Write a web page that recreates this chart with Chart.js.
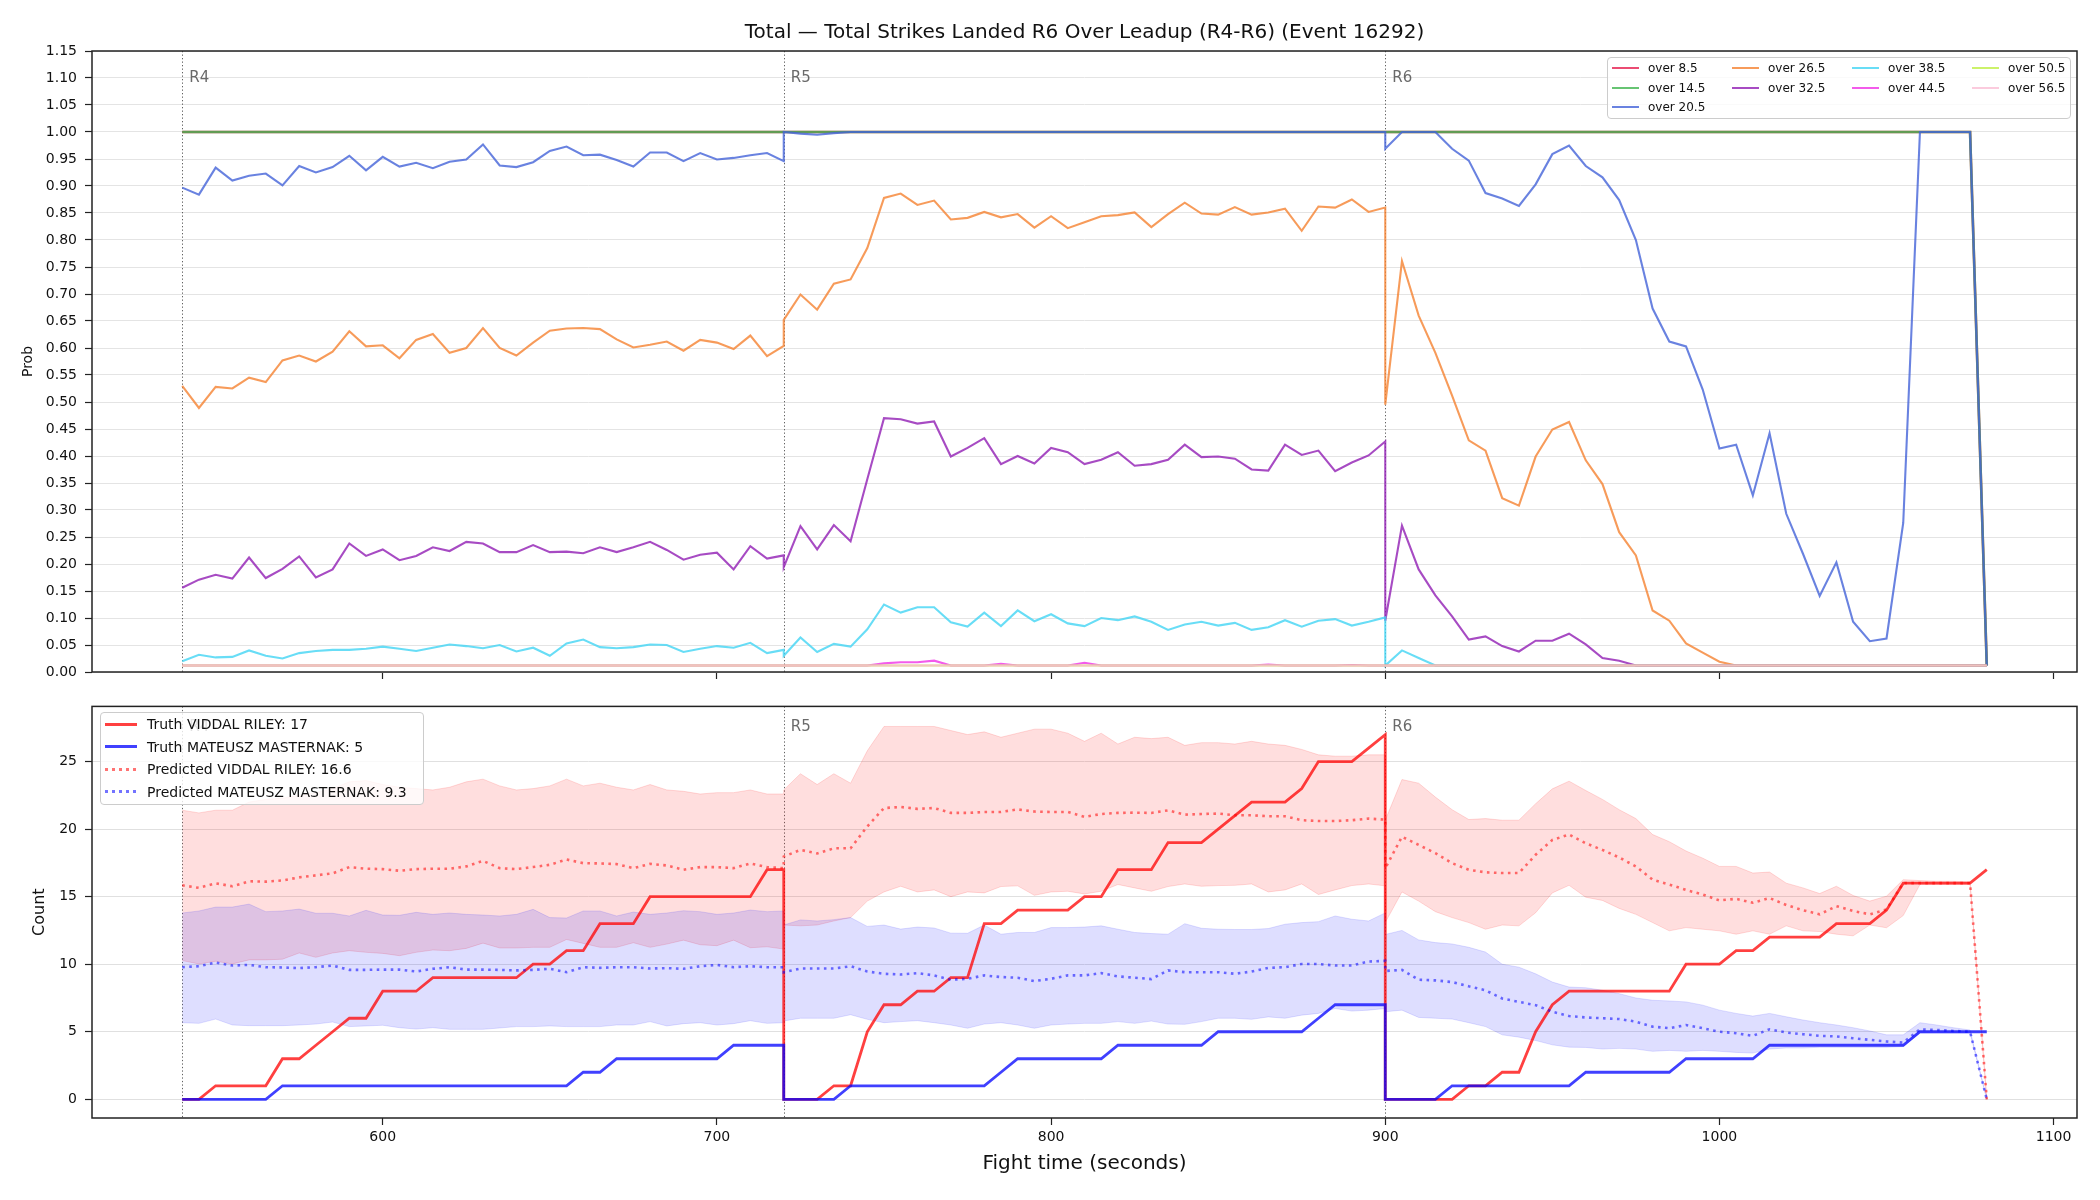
<!DOCTYPE html>
<html>
<head>
<meta charset="utf-8">
<script src="https://cdn.jsdelivr.net/npm/chart.js@4.4.1/dist/chart.umd.min.js"></script>
<style>
  html, body { margin: 0; padding: 0; background: #fff; }
  #wrap { position: relative; width: 2100px; height: 1200px; background: #fff; font-family: "DejaVu Sans", sans-serif; color: #111; overflow: hidden; }
  canvas { position: absolute; left: 0; }
  #title { position: absolute; left: 92px; width: 1985px; top: 18px; text-align: center; font-size: 20px; line-height: 26px; }
  .legend { position: absolute; background: rgba(255,255,255,0.8); border: 1px solid #cccccc; border-radius: 4px; box-sizing: border-box; z-index: 5; }
  .item { position: absolute; white-space: nowrap; display: flex; align-items: center; }
</style>
</head>
<body>
<div id="wrap">
  <canvas id="topChart" width="2100" height="700" style="top:0px"></canvas>
  <canvas id="bottomChart" width="2100" height="510" style="top:690px"></canvas>
  <div id="title">Total — Total Strikes Landed R6 Over Leadup (R4-R6) (Event 16292)</div>
  <div id="legendTop" class="legend" style="left:1607px; top:57px; width:464px; height:62px;"></div>
  <div id="legendBottom" class="legend" style="left:100px; top:712px; width:324px; height:93px;"></div>
</div>
<script>
const FONT = '"DejaVu Sans", sans-serif';

// fight time (s); each round repeats its boundary second
const times = [
  540,545,550,555,560,565,570,575,580,585,590,595,600,605,610,615,620,625,630,635,640,645,650,655,660,665,670,675,680,685,690,695,700,705,710,715,720,
  720,725,730,735,740,745,750,755,760,765,770,775,780,785,790,795,800,805,810,815,820,825,830,835,840,845,850,855,860,865,870,875,880,885,890,895,900,
  900,905,910,915,920,925,930,935,940,945,950,955,960,965,970,975,980,985,990,995,1000,1005,1010,1015,1020,1025,1030,1035,1040,1045,1050,1055,1060,1065,1070,1075,1080
];
const roundTimes = [540, 720, 900];
const roundNames = ['R4', 'R5', 'R6'];
const xTicks = [600, 700, 800, 900, 1000, 1100];
const probTicks = [0, 0.05, 0.1, 0.15, 0.2, 0.25, 0.3, 0.35, 0.4, 0.45, 0.5, 0.55, 0.6, 0.65, 0.7, 0.75, 0.8, 0.85, 0.9, 0.95, 1, 1.05, 1.1, 1.15];
const countTicks = [0, 5, 10, 15, 20, 25];

// top panel: probability of each line
const over85 = [
  1,1,1,1,1,1,1,1,1,1,1,1,1,1,1,1,1,1,1,1,1,1,1,1,1,1,1,1,1,1,1,1,1,1,1,1,1,
  1,1,1,1,1,1,1,1,1,1,1,1,1,1,1,1,1,1,1,1,1,1,1,1,1,1,1,1,1,1,1,1,1,1,1,1,1,
  1,1,1,1,1,1,1,1,1,1,1,1,1,1,1,1,1,1,1,1,1,1,1,1,1,1,1,1,1,1,1,1,1,1,1,1,0.012
];
const over145 = [
  1,1,1,1,1,1,1,1,1,1,1,1,1,1,1,1,1,1,1,1,1,1,1,1,1,1,1,1,1,1,1,1,1,1,1,1,1,
  1,1,1,1,1,1,1,1,1,1,1,1,1,1,1,1,1,1,1,1,1,1,1,1,1,1,1,1,1,1,1,1,1,1,1,1,1,
  1,1,1,1,1,1,1,1,1,1,1,1,1,1,1,1,1,1,1,1,1,1,1,1,1,1,1,1,1,1,1,1,1,1,1,1,0.012
];
const over205 = [
  0.897,0.884,0.934,0.910,0.919,0.923,0.901,0.937,0.925,0.935,0.956,0.929,0.954,0.936,0.943,0.933,0.945,0.949,0.977,0.938,0.935,0.944,0.965,0.973,0.957,0.958,0.948,0.936,0.962,0.962,0.946,0.961,0.949,0.952,0.957,0.961,0.946,
  1,0.997,0.995,0.998,1,1,1,1,1,1,1,1,1,1,1,1,1,1,1,1,1,1,1,1,1,1,1,1,1,1,1,1,1,1,1,1,1,
  0.969,1,1,1,0.969,0.947,0.887,0.877,0.863,0.903,0.959,0.975,0.937,0.916,0.874,0.800,0.673,0.612,0.603,0.523,0.414,0.421,0.327,0.442,0.293,0.219,0.141,0.203,0.093,0.057,0.062,0.276,1,1,1,1,0.012
];
const over265 = [
  0.530,0.489,0.528,0.525,0.545,0.537,0.577,0.586,0.575,0.593,0.631,0.603,0.605,0.581,0.615,0.626,0.591,0.600,0.637,0.600,0.586,0.610,0.632,0.636,0.637,0.635,0.616,0.601,0.606,0.612,0.595,0.615,0.610,0.598,0.623,0.585,0.604,
  0.652,0.699,0.671,0.719,0.727,0.785,0.878,0.886,0.865,0.873,0.838,0.841,0.852,0.842,0.848,0.823,0.844,0.822,0.833,0.844,0.846,0.851,0.824,0.848,0.869,0.849,0.847,0.861,0.847,0.851,0.858,0.817,0.862,0.860,0.875,0.852,0.860,
  0.495,0.761,0.660,0.591,0.512,0.429,0.410,0.322,0.308,0.399,0.449,0.463,0.392,0.348,0.259,0.216,0.114,0.095,0.053,0.036,0.019,0.012,0.012,0.012,0.012,0.012,0.012,0.012,0.012,0.012,0.012,0.012,0.012,0.012,0.012,0.012,0.012
];
const over325 = [
  0.156,0.171,0.180,0.173,0.212,0.174,0.191,0.214,0.175,0.190,0.238,0.215,0.227,0.207,0.215,0.231,0.224,0.241,0.238,0.222,0.222,0.235,0.222,0.223,0.220,0.231,0.222,0.231,0.241,0.226,0.208,0.217,0.221,0.190,0.233,0.210,0.216,
  0.194,0.270,0.227,0.272,0.242,0.357,0.470,0.468,0.460,0.464,0.399,0.415,0.433,0.385,0.400,0.386,0.415,0.407,0.385,0.393,0.407,0.382,0.385,0.393,0.421,0.398,0.399,0.395,0.375,0.373,0.421,0.402,0.410,0.372,0.388,0.401,0.427,
  0.095,0.271,0.190,0.142,0.103,0.060,0.066,0.048,0.038,0.058,0.058,0.071,0.051,0.026,0.021,0.012,0.012,0.012,0.012,0.012,0.012,0.012,0.012,0.012,0.012,0.012,0.012,0.012,0.012,0.012,0.012,0.012,0.012,0.012,0.012,0.012,0.012
];
const over385 = [
  0.020,0.032,0.027,0.028,0.040,0.030,0.025,0.035,0.039,0.041,0.041,0.043,0.047,0.043,0.039,0.045,0.051,0.048,0.044,0.050,0.038,0.045,0.030,0.053,0.060,0.046,0.044,0.046,0.051,0.050,0.037,0.043,0.048,0.045,0.054,0.035,0.041,
  0.030,0.064,0.037,0.052,0.047,0.079,0.125,0.110,0.120,0.120,0.092,0.084,0.110,0.085,0.114,0.094,0.107,0.090,0.085,0.100,0.096,0.103,0.093,0.078,0.088,0.093,0.086,0.091,0.078,0.083,0.096,0.084,0.095,0.098,0.086,0.093,0.101,
  0.012,0.040,0.026,0.012,0.012,0.012,0.012,0.012,0.012,0.012,0.012,0.012,0.012,0.012,0.012,0.012,0.012,0.012,0.012,0.012,0.012,0.012,0.012,0.012,0.012,0.012,0.012,0.012,0.012,0.012,0.012,0.012,0.012,0.012,0.012,0.012,0.012
];
const over445 = [
  0.012,0.012,0.012,0.012,0.012,0.012,0.012,0.012,0.012,0.012,0.012,0.012,0.012,0.012,0.012,0.012,0.012,0.012,0.012,0.012,0.012,0.012,0.012,0.012,0.012,0.012,0.012,0.012,0.012,0.012,0.012,0.012,0.012,0.012,0.012,0.012,0.012,
  0.012,0.012,0.012,0.012,0.012,0.012,0.016,0.018,0.018,0.021,0.012,0.012,0.012,0.015,0.012,0.012,0.012,0.012,0.017,0.012,0.012,0.012,0.012,0.012,0.012,0.012,0.012,0.012,0.012,0.014,0.012,0.012,0.012,0.012,0.013,0.012,0.012,
  0.012,0.012,0.012,0.012,0.012,0.012,0.012,0.012,0.012,0.012,0.012,0.012,0.012,0.012,0.012,0.012,0.012,0.012,0.012,0.012,0.012,0.012,0.012,0.012,0.012,0.012,0.012,0.012,0.012,0.012,0.012,0.012,0.012,0.012,0.012,0.012,0.012
];
const over505 = [
  0.012,0.012,0.012,0.012,0.012,0.012,0.012,0.012,0.012,0.012,0.012,0.012,0.012,0.012,0.012,0.012,0.012,0.012,0.012,0.012,0.012,0.012,0.012,0.012,0.012,0.012,0.012,0.012,0.012,0.012,0.012,0.012,0.012,0.012,0.012,0.012,0.012,
  0.012,0.012,0.012,0.012,0.012,0.012,0.012,0.012,0.012,0.012,0.012,0.012,0.012,0.012,0.012,0.012,0.012,0.012,0.012,0.012,0.012,0.012,0.012,0.012,0.012,0.012,0.012,0.012,0.012,0.012,0.012,0.012,0.012,0.012,0.012,0.012,0.012,
  0.012,0.012,0.012,0.012,0.012,0.012,0.012,0.012,0.012,0.012,0.012,0.012,0.012,0.012,0.012,0.012,0.012,0.012,0.012,0.012,0.012,0.012,0.012,0.012,0.012,0.012,0.012,0.012,0.012,0.012,0.012,0.012,0.012,0.012,0.012,0.012,0.012
];
const over565 = [
  0.012,0.012,0.012,0.012,0.012,0.012,0.012,0.012,0.012,0.012,0.012,0.012,0.012,0.012,0.012,0.012,0.012,0.012,0.012,0.012,0.012,0.012,0.012,0.012,0.012,0.012,0.012,0.012,0.012,0.012,0.012,0.012,0.012,0.012,0.012,0.012,0.012,
  0.012,0.012,0.012,0.012,0.012,0.012,0.012,0.012,0.012,0.012,0.012,0.012,0.012,0.012,0.012,0.012,0.012,0.012,0.012,0.012,0.012,0.012,0.012,0.012,0.012,0.012,0.012,0.012,0.012,0.012,0.012,0.012,0.012,0.012,0.012,0.012,0.012,
  0.012,0.012,0.012,0.012,0.012,0.012,0.012,0.012,0.012,0.012,0.012,0.012,0.012,0.012,0.012,0.012,0.012,0.012,0.012,0.012,0.012,0.012,0.012,0.012,0.012,0.012,0.012,0.012,0.012,0.012,0.012,0.012,0.012,0.012,0.012,0.012,0.012
];
const lineNames = ['over 8.5', 'over 14.5', 'over 20.5', 'over 26.5', 'over 32.5', 'over 38.5', 'over 44.5', 'over 50.5', 'over 56.5'];
const lineColors = ['rgba(230,25,75,0.78)', 'rgba(60,180,75,0.78)', 'rgba(67,99,216,0.8)', 'rgba(245,130,49,0.8)', 'rgba(145,30,180,0.8)',
                    'rgba(66,212,244,0.8)', 'rgba(240,50,230,0.8)', 'rgba(191,239,69,0.8)', 'rgba(250,190,212,0.8)'];
const lineValues = [over85, over145, over205, over265, over325, over385, over445, over505, over565];

// bottom panel: counts
const truthRiley = [
  0,0,1,1,1,1,3,3,4,5,6,6,8,8,8,9,9,9,9,9,9,10,10,11,11,13,13,13,15,15,15,15,15,15,15,17,17,
  0,0,0,1,1,5,7,7,8,8,9,9,13,13,14,14,14,14,15,15,17,17,17,19,19,19,20,21,22,22,22,23,25,25,25,26,27,
  0,0,0,0,0,1,1,2,2,5,7,8,8,8,8,8,8,8,10,10,10,11,11,12,12,12,12,13,13,13,14,16,16,16,16,16,17
];
const truthMasternak = [
  0,0,0,0,0,0,1,1,1,1,1,1,1,1,1,1,1,1,1,1,1,1,1,1,2,2,3,3,3,3,3,3,3,4,4,4,4,
  0,0,0,0,1,1,1,1,1,1,1,1,1,2,3,3,3,3,3,3,4,4,4,4,4,4,5,5,5,5,5,5,6,7,7,7,7,
  0,0,0,0,1,1,1,1,1,1,1,1,2,2,2,2,2,2,3,3,3,3,3,4,4,4,4,4,4,4,4,4,5,5,5,5,5
];
const predRiley = [
  15.84,15.65,15.99,15.77,16.14,16.11,16.2,16.43,16.58,16.72,17.19,17.07,17.04,16.92,17.04,17.07,17.07,17.24,17.65,17.11,17.04,17.19,17.36,17.75,17.48,17.46,17.41,17.11,17.43,17.31,16.99,17.19,17.19,17.11,17.46,17.19,17.11,
  17.97,18.46,18.2,18.58,18.58,20.2,21.56,21.64,21.5,21.56,21.2,21.2,21.27,21.27,21.46,21.3,21.27,21.27,20.9,21.12,21.2,21.22,21.2,21.39,21.07,21.12,21.15,21.03,21.03,20.95,20.95,20.66,20.6,20.6,20.66,20.78,20.7,
  17.1,19.44,18.83,18.22,17.48,16.99,16.8,16.75,16.75,18.1,19.2,19.6,18.95,18.46,17.9,17.24,16.26,15.9,15.5,15.16,14.72,14.84,14.55,14.9,14.38,14.0,13.69,14.3,13.94,13.69,14.06,16.0,16.0,16.0,16.0,16.0,0
];
const predMasternak = [
  9.78,9.85,10.12,9.9,9.95,9.78,9.76,9.71,9.78,9.9,9.58,9.58,9.6,9.6,9.46,9.66,9.78,9.6,9.6,9.58,9.54,9.58,9.66,9.41,9.78,9.73,9.78,9.78,9.68,9.71,9.66,9.85,9.95,9.78,9.85,9.78,9.78,
  9.4,9.68,9.68,9.68,9.85,9.46,9.29,9.24,9.34,9.17,8.85,8.92,9.17,9.05,9.0,8.75,8.92,9.17,9.17,9.34,9.1,9.0,8.9,9.54,9.41,9.41,9.41,9.29,9.46,9.73,9.78,10.02,10.02,9.9,9.9,10.2,10.25,
  9.5,9.58,8.85,8.8,8.68,8.36,8.07,7.46,7.21,6.97,6.48,6.16,6.06,6.0,5.94,5.75,5.38,5.26,5.5,5.26,5.0,4.89,4.7,5.18,4.94,4.82,4.7,4.65,4.52,4.4,4.28,4.2,5.18,5.13,5.06,5.0,0
];
const rileyHigh = [
  21.4,21.2,21.4,21.4,22.0,22.2,22.3,22.5,22.7,23.0,23.5,23.6,23.3,23.1,23.0,22.9,23.1,23.5,23.7,23.2,22.9,23.0,23.2,23.7,23.2,23.4,23.1,22.9,23.3,22.9,22.8,22.6,22.7,22.7,22.9,22.6,22.6,
  22.9,24.1,23.3,24.1,23.4,25.8,27.6,27.6,27.6,27.6,27.3,27.0,27.2,26.8,27.1,27.4,27.4,27.1,26.5,27.1,26.3,26.8,26.7,26.8,26.2,26.4,26.4,26.3,26.5,26.3,26.2,25.9,25.5,25.4,25.4,25.5,25.5,
  20.66,23.67,23.4,22.37,21.44,20.71,20.78,20.66,20.66,21.88,22.98,23.55,22.86,22.2,21.44,20.78,19.6,19.07,18.38,17.85,17.24,17.24,16.75,16.82,16.0,15.65,15.23,15.77,15.09,14.67,15.04,16.26,16.19,16.14,16.14,16.09,0
];
const rileyLow = [
  10.27,10.02,10.22,10.02,10.32,10.32,10.37,10.83,10.51,10.83,11.0,10.88,10.8,10.63,10.88,11.05,11.0,11.17,11.56,11.2,11.2,11.25,11.25,11.83,11.54,11.25,11.25,11.59,11.25,11.49,11.78,11.44,11.37,11.78,11.22,11.29,11.12,
  12.9,12.84,12.9,13.2,13.45,14.67,15.35,15.77,15.35,15.5,15.0,15.35,15.28,15.75,15.8,15.1,15.35,15.4,15.2,15.4,15.9,15.65,15.4,15.75,15.94,15.77,15.82,15.84,15.94,15.35,15.5,15.94,15.16,15.5,15.82,15.94,15.8,
  13.08,15.35,14.67,13.89,13.45,13.08,12.59,12.9,12.84,13.81,15.28,15.84,14.96,14.72,14.13,13.69,13.08,12.47,12.71,12.59,12.47,12.22,12.47,12.22,12.84,12.47,12.42,12.22,12.1,12.9,12.7,13.6,15.9,15.9,15.9,15.9,0
];
const masternakHigh = [
  13.79,13.94,14.23,14.23,14.45,13.89,13.94,14.08,13.77,13.77,13.57,13.99,13.64,13.62,13.84,13.69,13.79,13.69,13.64,13.57,13.69,14.06,13.45,13.42,13.94,13.94,13.57,13.86,13.69,13.79,13.96,13.89,13.69,13.79,14.01,13.89,13.94,
  12.9,13.28,13.2,13.3,13.45,12.8,12.9,12.6,12.75,12.68,12.3,12.29,12.9,12.22,12.35,12.35,12.71,12.71,12.75,12.84,12.59,12.35,12.27,12.22,13.0,12.66,12.59,12.57,12.57,12.64,12.96,13.08,13.15,13.57,13.33,13.2,13.8,
  12.2,12.5,11.8,11.6,11.5,11.25,10.9,10.0,9.78,9.29,8.68,8.31,8.26,8.07,7.82,7.5,7.33,7.28,7.21,6.97,6.6,6.36,6.16,6.36,6.11,5.87,5.67,5.5,5.3,5.06,4.77,4.77,5.67,5.5,5.3,5.13,0
];
const masternakLow = [
  5.67,5.62,5.94,5.5,5.45,5.45,5.45,5.5,5.57,5.72,5.38,5.43,5.48,5.3,5.2,5.3,5.18,5.18,5.18,5.28,5.38,5.38,5.43,5.38,5.38,5.38,5.5,5.5,5.75,5.43,5.6,5.67,5.5,5.6,5.82,5.62,5.67,
  5.8,6.0,6.0,6.0,6.26,5.92,5.67,5.75,5.82,5.67,5.5,5.26,5.57,5.67,5.5,5.26,5.5,5.57,5.62,5.62,5.75,5.62,5.79,5.57,5.55,5.75,6.0,6.0,5.92,6.1,6.0,6.23,6.36,6.72,6.53,6.6,6.72,
  6.48,6.6,6.06,6.0,5.94,5.67,5.38,4.77,4.6,4.35,4.03,3.86,3.84,3.72,3.77,3.72,3.55,3.62,3.55,3.62,3.55,3.47,3.42,3.72,3.8,3.8,3.85,3.85,3.85,3.85,3.85,3.9,4.9,4.9,4.9,4.9,0
];
const countLabels = ['Truth VIDDAL RILEY: 17', 'Truth MATEUSZ MASTERNAK: 5', 'Predicted VIDDAL RILEY: 16.6', 'Predicted MATEUSZ MASTERNAK: 9.3'];

const pts = vals => times.map((t, i) => ({ x: t, y: vals[i] }));

function roundsAndFrame(labelOffset) {
  return {
    id: 'roundsAndFrame',
    beforeDatasetsDraw(chart) {
      const { ctx, chartArea: a, scales: { x } } = chart;
      ctx.save();
      ctx.strokeStyle = 'rgba(70,70,70,0.85)';
      ctx.lineWidth = 1;
      ctx.setLineDash([1.3, 2.2]);
      roundTimes.forEach(t => {
        const px = Math.round(x.getPixelForValue(t)) + 0.5;
        ctx.beginPath(); ctx.moveTo(px, a.top); ctx.lineTo(px, a.bottom); ctx.stroke();
      });
      ctx.setLineDash([]);
      ctx.fillStyle = 'rgba(80,80,80,0.85)';
      ctx.font = '15px ' + FONT;
      ctx.textBaseline = 'middle';
      ctx.textAlign = 'left';
      roundTimes.forEach((t, i) => ctx.fillText(roundNames[i], x.getPixelForValue(t) + 7, a.top + labelOffset));
      ctx.restore();
    },
    afterDraw(chart) {
      const { ctx, chartArea: a } = chart;
      ctx.save();
      ctx.strokeStyle = '#222';
      ctx.lineWidth = 1.5;
      ctx.strokeRect(a.left, a.top, a.right - a.left, a.bottom - a.top);
      ctx.restore();
    }
  };
}

function xAxis(height, showLabels) {
  return {
    type: 'linear', min: 513, max: 1107,
    afterBuildTicks: s => { s.ticks = xTicks.map(v => ({ value: v })); },
    afterFit: s => { s.height = height; },
    ticks: { display: showLabels, autoSkip: false, maxRotation: 0, padding: 4, color: '#111',
             font: { size: 14, family: FONT }, callback: v => String(v) },
    grid: { drawOnChartArea: false, drawTicks: true, tickLength: 7, tickColor: '#222', tickWidth: 1.2 },
    border: { display: false },
    title: { display: showLabels, text: 'Fight time (seconds)', color: '#111',
             font: { size: 20, family: FONT }, padding: { top: 0, bottom: 24 } }
  };
}

const topDatasets = lineValues.map((vals, i) => ({
  label: lineNames[i],
  data: pts(vals),
  borderColor: lineColors[i],
  borderWidth: i < 2 ? 2.6 : 2.1,
  fill: false,
  order: 9 - i
}));

new Chart(document.getElementById('topChart'), {
  type: 'line',
  data: { datasets: topDatasets },
  options: {
    responsive: false, animation: false, devicePixelRatio: 1,
    layout: { padding: { top: 51, right: 23, bottom: 0, left: 0 } },
    elements: { point: { radius: 0 }, line: { tension: 0 } },
    plugins: { legend: { display: false }, tooltip: { enabled: false } },
    scales: {
      x: xAxis(28, false),
      y: {
        min: 0, max: 1.15,
        afterBuildTicks: s => { s.ticks = probTicks.map(v => ({ value: v })); },
        afterFit: s => { s.width = 92; },
        ticks: { autoSkip: false, padding: 8, color: '#111', font: { size: 14, family: FONT }, callback: v => v.toFixed(2) },
        grid: { color: '#e4e4e4', lineWidth: 1, tickLength: 7, tickColor: '#222', tickWidth: 1.2 },
        border: { display: false },
        title: { display: true, text: 'Prob', color: '#111', font: { size: 14, family: FONT }, padding: { top: 20, bottom: 0 } }
      }
    }
  },
  plugins: [roundsAndFrame(27)]
});

new Chart(document.getElementById('bottomChart'), {
  type: 'line',
  data: {
    datasets: [
      { data: pts(rileyHigh), borderColor: 'rgba(255,0,0,0.14)', borderWidth: 1, backgroundColor: 'rgba(255,0,0,0.13)', fill: '+1', order: 20 },
      { data: pts(rileyLow), borderColor: 'rgba(255,0,0,0.14)', borderWidth: 1, fill: false, order: 20 },
      { data: pts(masternakHigh), borderColor: 'rgba(0,0,255,0.12)', borderWidth: 1, backgroundColor: 'rgba(0,0,255,0.13)', fill: '+1', order: 19 },
      { data: pts(masternakLow), borderColor: 'rgba(0,0,255,0.12)', borderWidth: 1, fill: false, order: 19 },
      { label: countLabels[0], data: pts(truthRiley), borderColor: 'rgba(255,0,0,0.75)', borderWidth: 2.8, fill: false, order: 4 },
      { label: countLabels[1], data: pts(truthMasternak), borderColor: 'rgba(0,0,255,0.75)', borderWidth: 2.8, fill: false, order: 3 },
      { label: countLabels[2], data: pts(predRiley), borderColor: 'rgba(255,0,0,0.55)', borderWidth: 2.6, borderDash: [2.6, 4.4], fill: false, order: 2 },
      { label: countLabels[3], data: pts(predMasternak), borderColor: 'rgba(0,0,255,0.55)', borderWidth: 2.6, borderDash: [2.6, 4.4], fill: false, order: 1 }
    ]
  },
  options: {
    responsive: false, animation: false, devicePixelRatio: 1,
    layout: { padding: { top: 13, right: 23, bottom: 0, left: 0 } },
    elements: { point: { radius: 0 }, line: { tension: 0 } },
    plugins: { legend: { display: false }, tooltip: { enabled: false } },
    scales: {
      x: xAxis(82, true),
      y: {
        min: -1.385, max: 29.085,
        afterBuildTicks: s => { s.ticks = countTicks.map(v => ({ value: v })); },
        afterFit: s => { s.width = 92; },
        ticks: { autoSkip: false, padding: 8, color: '#111', font: { size: 14, family: FONT }, callback: v => String(v) },
        grid: { color: '#e0e0e0', lineWidth: 1, tickLength: 7, tickColor: '#222', tickWidth: 1.2 },
        border: { display: false },
        title: { display: true, text: 'Count', color: '#111', font: { size: 16, family: FONT }, padding: { top: 30, bottom: 0 } }
      }
    }
  },
  plugins: [roundsAndFrame(21)]
});

// legends
const legTop = document.getElementById('legendTop');
const colOf = [0, 0, 0, 1, 1, 2, 2, 3, 3];
const rowOf = [0, 1, 2, 0, 1, 0, 1, 0, 1];
lineNames.forEach((name, i) => {
  const it = document.createElement('div');
  it.className = 'item';
  it.style.left = (4 + colOf[i] * 120) + 'px';
  it.style.top = (2 + rowOf[i] * 19.5) + 'px';
  it.style.height = '16px';
  it.style.fontSize = '12px';
  it.innerHTML = '<span style="display:inline-block;width:27px;height:2px;background:' + lineColors[i] + ';margin-right:9px"></span>' + name;
  legTop.appendChild(it);
});

const legBottom = document.getElementById('legendBottom');
const legStyles = [
  'background:rgba(255,0,0,0.75)',
  'background:rgba(0,0,255,0.75)',
  'background:repeating-linear-gradient(to right, rgba(255,0,0,0.55) 0 3px, transparent 3px 7px)',
  'background:repeating-linear-gradient(to right, rgba(0,0,255,0.55) 0 3px, transparent 3px 7px)'
];
countLabels.forEach((name, i) => {
  const it = document.createElement('div');
  it.className = 'item';
  it.style.left = '4px';
  it.style.top = (1 + i * 22.5) + 'px';
  it.style.height = '20px';
  it.style.fontSize = '14px';
  it.innerHTML = '<span style="display:inline-block;width:32px;height:3px;' + legStyles[i] + ';margin-right:10px"></span>' + name;
  legBottom.appendChild(it);
});
</script>
</body>
</html>
